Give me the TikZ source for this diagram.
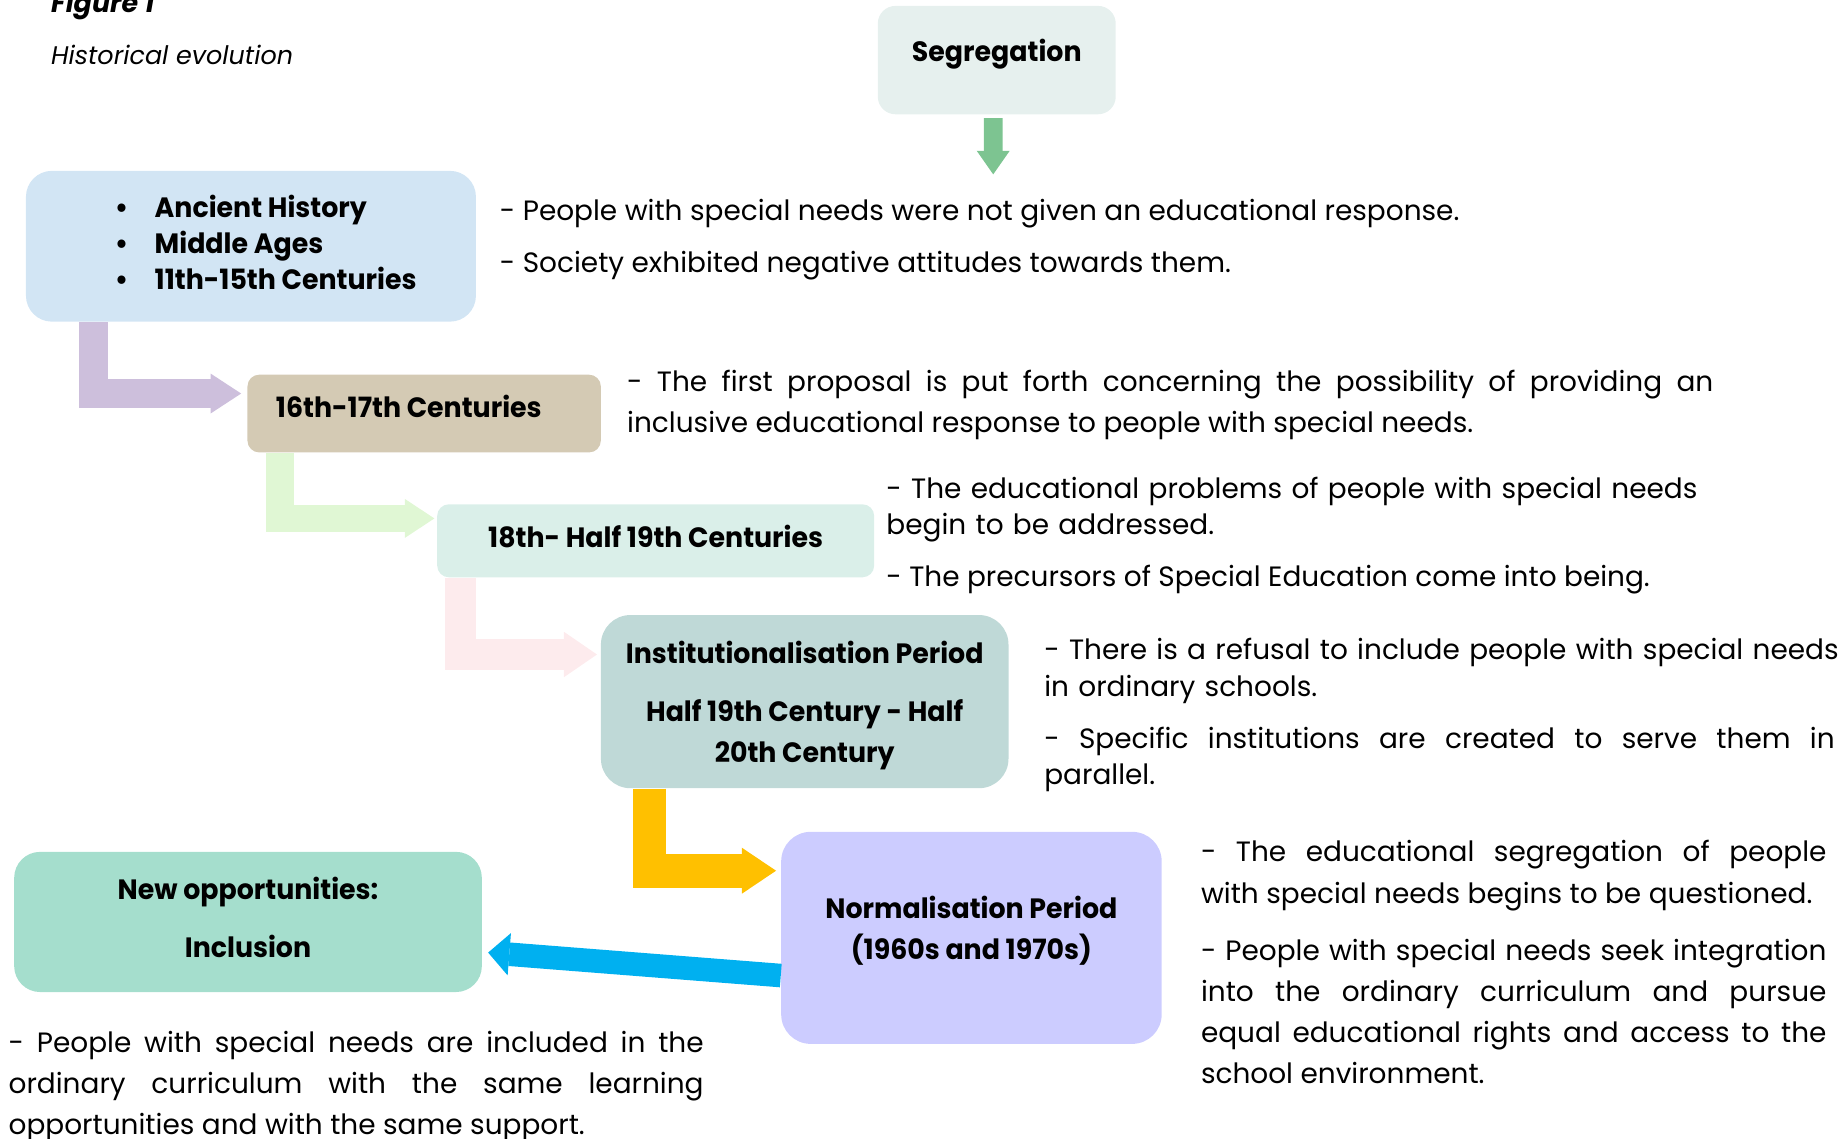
\documentclass[tikz,border=0pt]{standalone}
\usepackage{fontspec}
\setmainfont{Poppins}
\newfontfamily\boxfont{Poppins}[FakeStretch=0.96]
\usetikzlibrary{arrows.meta,calc}

\definecolor{segfill}{HTML}{E6F0EE}
\definecolor{segarrow}{HTML}{7DC491}
\definecolor{histfill}{HTML}{D2E5F4}
\definecolor{histarrow}{HTML}{CDBFDC}
\definecolor{cenfill}{HTML}{D4CAB4}
\definecolor{cenarrow}{HTML}{E0F7D4}
\definecolor{halffill}{HTML}{DAEFE9}
\definecolor{halfarrow}{HTML}{FDEBED}
\definecolor{instfill}{HTML}{BFD9D7}
\definecolor{instarrow}{HTML}{FFC000}
\definecolor{normfill}{HTML}{CCCCFF}
\definecolor{normarrow}{HTML}{00B0F0}
\definecolor{incfill}{HTML}{A5DECD}

\begin{document}
\begin{tikzpicture}[x=0.02cm, y=-0.02cm]
		\tikzstyle{every node}=[font=\fontsize{13.5}{19.9}\selectfont, inner sep=0pt]
		\tikzstyle{box}=[align=center, font=\boxfont\bfseries\fontsize{13.5}{19.9}\selectfont]
		\tikzstyle{note}=[anchor=base west, align=justify]
		\tikzstyle{blockarrow}=[line join=miter]
		\useasboundingbox (0,0) rectangle (1560,966.7);

		\node[anchor=base west, font=\bfseries\itshape\fontsize{13}{16}\selectfont] (fig) at (43,10.5) {Figure 1};
		\node[anchor=base west, font=\itshape\fontsize{12.3}{16}\selectfont] (title) at (43,55) {Historical evolution};

		% boxes
		\node[box, fill=segfill, rounded corners=0.3cm, minimum width=4.04cm, minimum height=1.84cm] (seg) at (846,51) {};
		\node[box] (segtext) at ([yshift=-0.82cm]seg.north) {Segregation};
		\node[box, fill=histfill, rounded corners=0.44cm, minimum width=7.64cm, minimum height=2.56cm, font=\boxfont\bfseries\fontsize{13.5}{17.4}\selectfont] (hist) at (213,209) {\hspace*{0.5cm}\begin{tabular}{@{}l@{}}\textbullet\hspace{0.45cm}Ancient History\\ \textbullet\hspace{0.45cm}Middle Ages\\ \textbullet\hspace{0.45cm}11th-15th Centuries\end{tabular}};
		\node[box, fill=cenfill, rounded corners=0.2cm, minimum width=6cm, minimum height=1.32cm, text depth=0.24cm] (cen) at (360,351) {16th-17th Centuries\hspace*{0.52cm}};
		\node[box, fill=halffill, rounded corners=0.2cm, minimum width=7.42cm, minimum height=1.24cm, text depth=0.16cm] (half) at (556.5,459) {18th- Half 19th Centuries};
		\node[box, fill=instfill, rounded corners=0.5cm, minimum width=6.92cm, minimum height=2.94cm, text depth=0pt] (inst) at (683,595.5) {Institutionalisation Period\\[8pt] Half 19th Century - Half\\ 20th Century};
		\node[box, fill=normfill, rounded corners=0.5cm, minimum width=6.46cm, minimum height=3.6cm, text depth=0.33cm] (norm) at (824.5,796) {Normalisation Period\\ (1960s and 1970s)};
		\node[box, fill=incfill, rounded corners=0.44cm, minimum width=7.94cm, minimum height=2.38cm, text depth=0.16cm] (inc) at (210.5,782.5) {New opportunities:\\[8pt] Inclusion};

		% arrows
		\coordinate (segtip) at (843,148);
		\draw[blockarrow, segarrow, line width=0.32cm, -{Triangle[length=0.4cm, width=0.56cm, line width=0pt]}] ([xshift=-0.06cm, yshift=-0.06cm]seg.south) -- (segtip);
		\draw[blockarrow, histarrow, line width=0.5cm, -{Triangle[length=0.52cm, width=0.68cm, line width=0pt]}] ([xshift=1.15cm]hist.south west) |- ([xshift=-0.1cm, yshift=0.34cm]cen.west);
		\draw[blockarrow, cenarrow, line width=0.46cm, -{Triangle[length=0.5cm, width=0.66cm, line width=0pt]}] ([xshift=0.56cm]cen.south west) |- ([xshift=-0.04cm, yshift=0.38cm]half.west);
		\draw[blockarrow, halfarrow, line width=0.52cm, -{Triangle[length=0.56cm, width=0.77cm, line width=0pt]}] ([xshift=0.4cm]half.south west) |- ([xshift=-0.06cm, yshift=0.8cm]inst.west);
		\draw[blockarrow, instarrow, line width=0.57cm, -{Triangle[length=0.58cm, width=0.78cm, line width=0pt]}] ([xshift=0.83cm]inst.south west) |- ([xshift=-0.08cm, yshift=1.14cm]norm.west);
		\draw[blockarrow, normarrow, line width=0.4cm, -{Triangle[length=0.36cm, width=0.72cm, line width=0pt]}] ([yshift=-0.64cm]norm.west) -- ([xshift=0.1cm, yshift=-0.52cm]inc.east);

		% notes
		\node[note, text width=18cm] (n1) at (424,187) {- People with special needs were not given an educational response.};
		\node[note, text width=18cm] (n2) at (424,231) {- Society exhibited negative attitudes towards them.};
		\node[note, text width=18.44cm] (n3) at (532,332) {- The first proposal is put forth concerning the possibility of providing an\linebreak inclusive educational response to people with special needs.};
		\node[note, align=left, text width=15cm, font=\fontsize{13.5}{17.6}\selectfont] (n4) at (752,423) {- The educational problems of people with special needs\\ begin to be addressed.};
		\node[note, text width=15cm] (n5) at (752,498) {- The precursors of Special Education come into being.};
		\node[note, align=left, text width=14cm, font=\fontsize{13.5}{17.6}\selectfont] (n6) at (886,560) {- There is a refusal to include people with special needs\\ in ordinary schools.};
		\node[note, text width=13.42cm, font=\fontsize{13.5}{17.6}\selectfont] (n7) at (886,635) {- Specific institutions are created to serve them in\linebreak parallel.};
		\node[note, text width=10.62cm, font=\fontsize{13.5}{20.5}\selectfont] (n8) at (1019,731) {- The educational segregation of people\linebreak with special needs begins to be questioned.};
		\node[note, text width=10.62cm] (n9) at (1019,815) {- People with special needs seek integration\linebreak into the ordinary curriculum and pursue\linebreak equal educational rights and access to the\linebreak school environment.};
		\node[note, text width=11.8cm] (n10) at (7,893) {- People with special needs are included in the\linebreak ordinary curriculum with the same learning\linebreak opportunities and with the same support.};
	\end{tikzpicture}
\end{document}
